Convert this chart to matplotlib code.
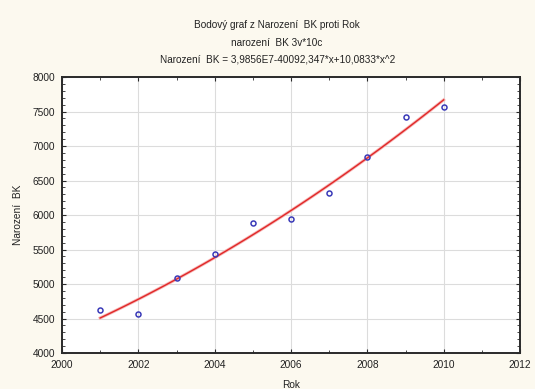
import numpy as np
import matplotlib.pyplot as plt
from matplotlib.ticker import MultipleLocator

# data
rok = [2001, 2002, 2003, 2004, 2005, 2006, 2007, 2008, 2009, 2010]
narozeni_bk = [4623, 4565, 5092, 5440, 5880, 5937, 6319, 6845, 7425, 7565]

title_lines = [
    "Bodový graf z Narození  BK proti Rok",
    "narození  BK 3v*10c",
    "Narození  BK = 3,9856E7-40092,347*x+10,0833*x^2",
]

plt.rcParams['font.family'] = ['Liberation Sans', 'DejaVu Sans']

fig = plt.figure(figsize=(5.35, 3.89), dpi=100)
fig.patch.set_facecolor('#fcf9ef')
ax = fig.add_axes([0.1159, 0.0925, 0.8561, 0.7095])
ax.set_facecolor('white')

# quadratic fit (same model as in the title)
x = np.array(rok, dtype=float)
y = np.array(narozeni_bk, dtype=float)
coef = np.polyfit(x - 2000, y, 2)
xs = np.linspace(x.min(), x.max(), 100)
ax.plot(xs, np.polyval(coef, xs - 2000), color='#f6b4b4', lw=2.2, zorder=2)
ax.plot(xs, np.polyval(coef, xs - 2000), color='#e02828', lw=1.0, zorder=3)

ax.plot(rok, narozeni_bk, 'o', mfc='none', mec='#3a3ab8', ms=3.6, mew=1.1, zorder=4)

ax.set_xlim(2000, 2012)
ax.set_ylim(4000, 8000)
ax.xaxis.set_major_locator(MultipleLocator(2))
ax.xaxis.set_minor_locator(MultipleLocator(1))
ax.yaxis.set_major_locator(MultipleLocator(500))
ax.yaxis.set_minor_locator(MultipleLocator(100))
ax.grid(True, which='major', color='#dcdcdc', lw=0.8)
ax.set_axisbelow(True)

ax.tick_params(which='both', direction='in', top=True, right=True, colors='#2a2a2a',
               labelsize=7.3, labelcolor='#222222')
ax.tick_params(which='major', length=3, pad=5)
ax.tick_params(which='minor', length=2)
for s in ax.spines.values():
    s.set_color('#2a2a2a')
    s.set_linewidth(1.4)

ax.set_xlabel("Rok", fontsize=7.3, color='#222222', labelpad=7)
ax.set_ylabel("Narození  BK", fontsize=7.3, color='#222222', labelpad=7)

for i, t in enumerate(title_lines):
    fig.text(0.518, 1 - (25 + i * 17.5) / 389, t, ha='center', va='center', fontsize=7.2, color='#222222')

fig.savefig("out.png", dpi=100, facecolor=fig.get_facecolor())
